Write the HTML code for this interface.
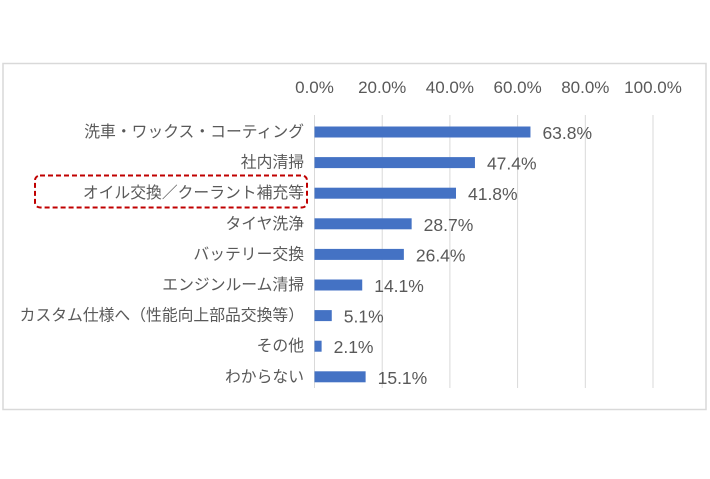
<!DOCTYPE html>
<html><head><meta charset="utf-8"><style>
body{margin:0;background:#fff;}
svg text{font-family:"Liberation Sans","Noto Sans CJK JP",sans-serif;fill:#595959;}
</style></head><body>
<svg width="710" height="474" viewBox="0 0 710 474" xmlns="http://www.w3.org/2000/svg">
<rect x="3" y="63.5" width="703" height="346" fill="#fff" stroke="#d9d9d9" stroke-width="1.5"/>
<g id="grid"></g><g id="ticks"></g><g id="bars"></g>
<rect x="35" y="175.5" width="272" height="32" rx="5" fill="none" stroke="#c00000" stroke-width="2" stroke-dasharray="5,3"/>
</svg>
<script>
const categories=["洗車・ワックス・コーティング","社内清掃","オイル交換／クーラント補充等","タイヤ洗浄","バッテリー交換","エンジンルーム清掃","カスタム仕様へ（性能向上部品交換等）","その他","わからない"];
const values=[63.8,47.4,41.8,28.7,26.4,14.1,5.1,2.1,15.1];
const tickValues=[0,20,40,60,80,100];
const tickLabels=["0.0%","20.0%","40.0%","60.0%","80.0%","100.0%"];
const NS="http://www.w3.org/2000/svg";
const x0=314.5,x1=653,yTop=115,yBot=388,row0=132,rowStep=30.6;
const xs=v=>x0+(x1-x0)*v/100;
const ys=i=>row0+i*rowStep;
function mk(t,a,p){const e=document.createElementNS(NS,t);for(const k in a)e.setAttribute(k,a[k]);p.appendChild(e);return e;}
const grid=document.getElementById('grid'),ticks=document.getElementById('ticks'),bars=document.getElementById('bars');
tickValues.forEach((v,i)=>{
 const l=mk('line',{x1:xs(v),x2:xs(v),y1:yTop,y2:yBot,stroke:'#d9d9d9','stroke-width':1},grid);
 
 
 const t=mk('text',{x:xs(v),y:93,'text-anchor':'middle','font-size':17},ticks);
 t.textContent=tickLabels[i];
 
 
});
categories.forEach((c,i)=>{
 const y=ys(i);
 const lab=mk('text',{x:304,y:y+5,'text-anchor':'end','font-size':15.8},bars);
 lab.textContent=c;
 
 
 const b=mk('rect',{x:x0,y:y-5.5,width:xs(values[i])-x0,height:11,fill:'#4472c4'},bars);
 
 
 const v=mk('text',{x:xs(values[i])+12,y:y+7,'font-size':17.5},bars);
 v.textContent=values[i].toFixed(1)+'%';
 
 
});
</script>
</body></html>
